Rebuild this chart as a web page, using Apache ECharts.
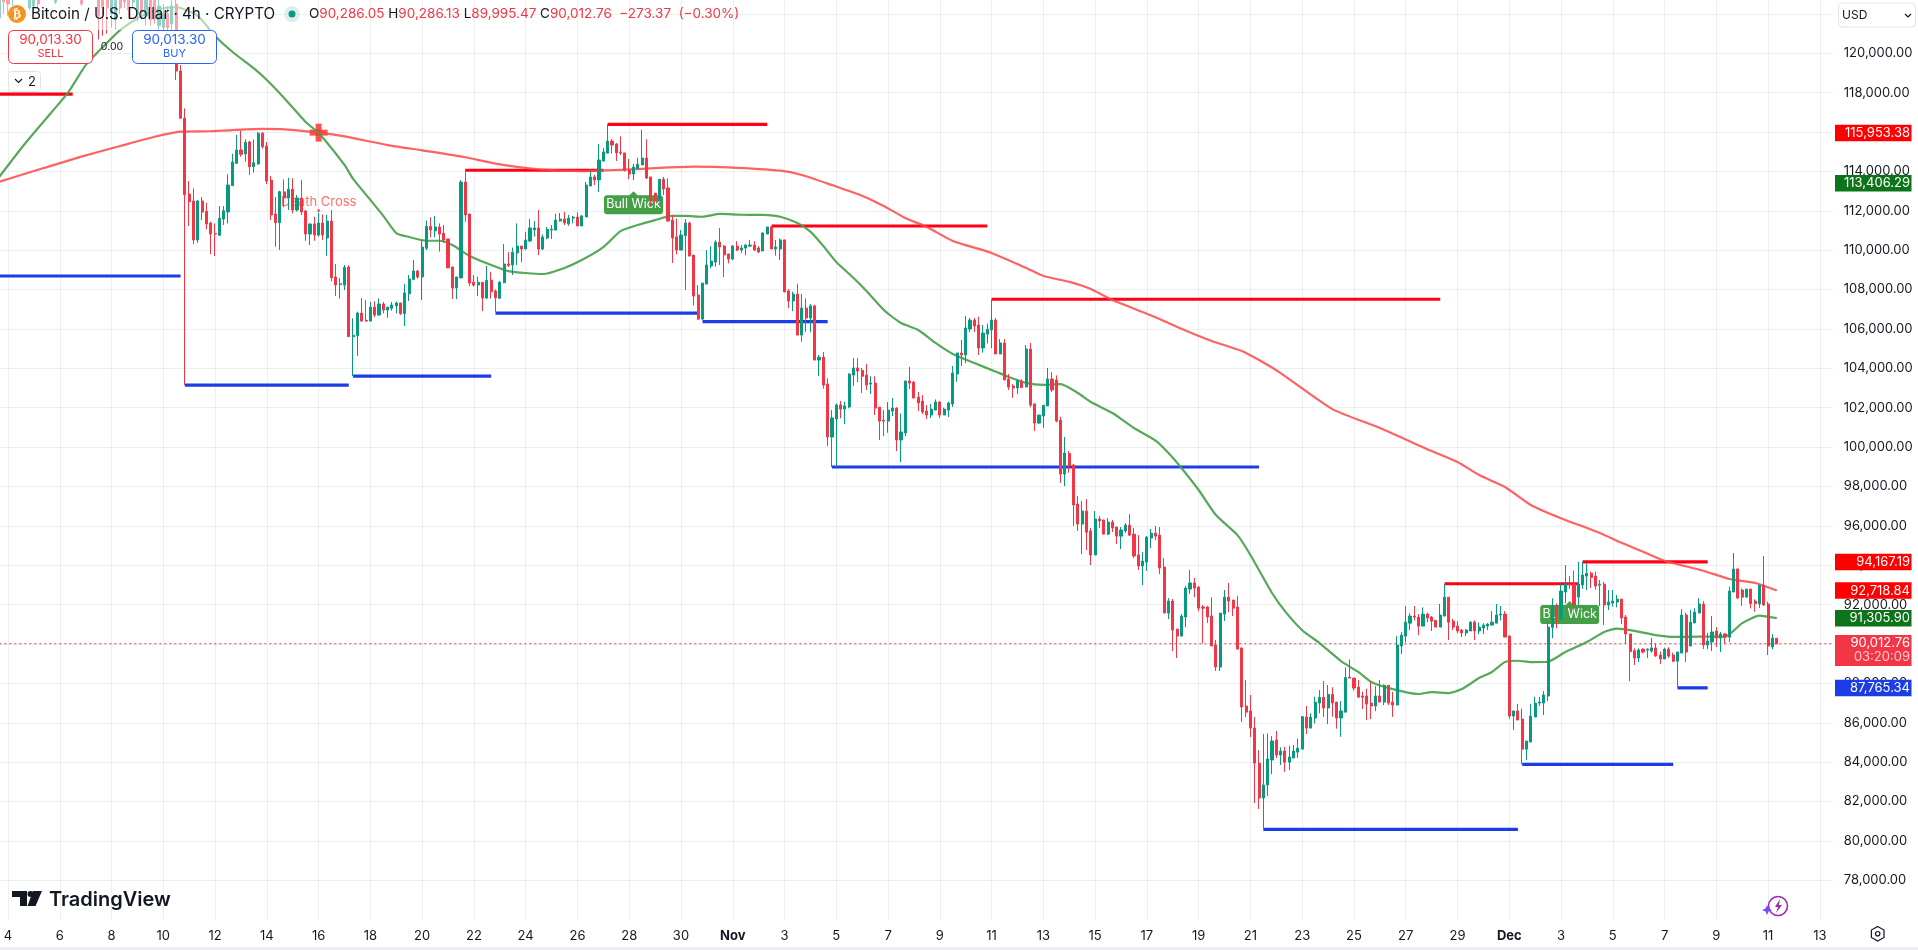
<!DOCTYPE html>
<html><head><meta charset="utf-8">
<style>html,body{margin:0;padding:0;background:#fff;overflow:hidden}#c{width:1918px;height:950px}</style>
<script src="https://cdn.jsdelivr.net/npm/echarts@6/dist/echarts.min.js"></script>
</head><body><div id="c"></div>
<script>
// Prices in thousands of USD. Each candle row: [open, close, high, low]
const barsOctA=[[121.8,123.2,123.5,121.6],[123.3,122.6,123.6,122.0],[123.1,122.5,123.3,121.9],[122.9,123.4,123.6,122.4],[123.0,123.6,123.8,122.8],[123.5,123.0,123.8,122.8],[123.0,123.5,123.7,122.8],[122.3,123.0,123.3,122.2],[122.4,123.2,123.4,122.0],[123.0,122.5,123.2,122.3],
[123.2,122.9,123.4,122.7],[122.85,123.3,123.5,122.7],[123.4,123.0,123.6,122.9],[122.6,123.2,123.4,122.5],[123.2,123.6,123.8,123.0],[123.6,123.2,123.8,123.1],[123.2,123.7,123.9,123.1],[123.7,123.3,123.9,123.2],[123.3,123.6,123.8,123.1],[123.2,122.5,123.6,122.4],
[122.9,123.4,123.6,122.8],[123.4,123.1,123.6,122.9],[123.1,123.5,123.7,122.9],[123.5,121.9,124,120.7],[123.0,122.3,123.3,120.9],[123.2,122.3,123.5,121.0],[122.0,123,123.3,121.3],[121.7,122.7,123.1,121.2],[123.2,122.3,123.4,122.0],[123.4,122.6,123.6,122.3],
[123.0,122.2,123.2,121.8],[122.6,123.1,123.3,122.3],[122.0,122.9,123.1,121.6],[123.0,122.1,123.2,121.7],[121.9,122.9,123.2,121.4],[122.8,121.7,123,121.4],[122.7,121.7,123.1,121.5],[121.4,122.4,122.9,121.2],[121.3,122.0,122.5,121.1],[122.0,121.3,122.4,121.1],
[121.5,122.4,122.7,121.0],[122.5,119.1,122.9,118.65]];
const barsOctB=[[119.1,116.7,119.4,116.7],[116.7,112.82,117.2,103.15],[112.85,112.46,113.51,111.23],[112.5,110.52,113.14,110.31],[110.52,112.5,112.55,110.38],[112.5,111.94,112.7,111.53],[111.97,111.33,112.41,111.06],[111.38,110.82,111.45,109.8],[110.85,110.82,111.36,109.7],[110.76,111.62,112.24,110.72],
[111.58,112.0,112.24,111.28],[111.94,113.31,113.85,111.36],[113.28,114.48,114.9,113.28],[114.41,115.09,115.85,114.41],[115.09,114.87,116.07,114.75],[114.89,115.48,115.63,114.5],[115.5,114.24,115.56,113.82],[114.24,114.44,115.63,113.94],[114.38,115.94,116.0,114.34],[115.94,115.26,116.0,115.16],
[115.29,113.51,115.5,113.36],[113.56,111.79,113.77,111.53],[111.84,111.4,112.7,110.18],[111.4,112.97,113.02,110.01],[112.96,112.65,113.6,112.18],[112.65,113.1,113.67,112.04],[113.1,112.04,113.65,111.87],[112.04,112.65,112.8,111.96],[112.65,111.94,113.56,111.79],[111.99,110.82,112.04,110.48],
[110.82,111.33,111.36,110.26],[111.33,110.77,111.7,110.48],[110.77,111.38,111.9,110.69],[111.38,110.77,111.82,110.52],[110.62,111.48,111.79,109.7],[111.48,108.6,112.04,108.43],[108.64,108.23,109.3,107.67],[108.26,108.29,108.59,107.54],[108.23,109.13,109.25,107.98],[109.15,105.61,109.23,105.6],
[105.6,105.68,106.54,103.6],[105.66,106.81,106.88,104.63],[106.81,106.4,107.57,106.37],[106.44,106.4,107.47,106.37],[106.4,107.11,107.37,106.4],[107.11,106.71,107.4,106.6],[106.71,107.27,107.55,106.67],[107.27,106.96,107.37,106.79],[106.96,107.11,107.11,106.57],[107.05,107.22,107.37,106.93],
[107.17,107.32,107.4,106.79],[107.32,106.78,107.32,106.71],[106.78,107.83,108.28,106.15],[107.79,108.54,108.74,107.42],[108.52,108.94,109.5,108.49],[108.94,108.64,109.0,108.55],[108.64,110.16,110.52,107.47],[110.1,111.21,111.5,110.0],[111.21,111.03,111.67,110.65],[110.98,111.18,111.73,110.65],
[111.18,110.82,111.36,109.93],[110.86,110.52,111.28,110.38],[110.57,109.1,110.57,109.1],[109.15,108.08,109.15,107.52],[108.08,108.64,108.64,107.52],[108.59,113.46,113.56,108.59],[113.46,111.79,114.07,111.45],[111.84,108.33,111.84,108.18],[108.37,108.23,108.74,108.15],[108.23,108.37,108.66,107.67],
[108.37,107.57,108.37,106.91],[107.57,108.47,109.2,107.52]];
const barsOctC=[[108.48,107.89,108.9,107.55],[107.93,107.59,108.0,106.87],[107.56,108.38,108.42,107.52],[108.35,109.3,110.31,108.32],[109.3,109.23,109.9,109.15],[109.25,109.9,110.13,108.74],[109.86,110.21,111.36,109.25],[110.21,110.06,110.21,109.38],[110.06,110.52,110.94,110.06],[110.47,111.13,111.58,110.4],
[111.03,111.13,111.48,110.69],[111.13,110.06,112.04,109.75],[110.06,110.67,110.8,110.0],[110.62,111.07,111.18,110.57],[111.02,111.07,111.28,110.57],[111.02,111.53,111.85,111.02],[111.48,111.58,111.89,111.45],[111.58,111.38,111.94,111.28],[111.34,111.63,111.79,111.24],[111.63,111.68,111.74,111.36],
[111.68,111.23,111.92,111.23],[111.23,111.74,111.79,111.23],[111.69,113.31,113.46,111.69],[113.26,113.72,114.02,113.26],[113.72,113.57,113.82,113.31],[113.57,114.58,115.39,112.95],[114.53,114.99,115.2,114.5],[114.93,115.54,116.39,114.93],[115.54,115.34,115.65,114.92],[115.39,114.94,115.44,114.53],
[114.99,114.94,115.78,114.83],[114.94,114.07,114.94,113.99],[114.07,113.87,114.63,113.61],[113.87,114.22,114.38,113.56],[114.15,114.36,114.7,114.12],[114.33,114.68,116.12,114.33],[114.68,113.67,115.63,113.61],[113.72,112.5,113.72,112.3],[112.9,112.5,112.9,112.43],[112.5,113.6,113.6,112.5],
[113.6,113.11,113.72,112.8],[113.16,111.48,113.65,111.45],[111.53,110.62,111.79,109.35],[110.67,110.01,111.6,109.79],[110.01,110.77,111.02,110.01],[110.74,111.38,111.58,107.98],[111.38,109.7,111.45,109.7],[109.75,107.67,109.75,107.2],[107.72,106.5,108.23,106.45],[106.5,108.33,108.33,106.45],
[108.28,109.25,110.0,108.28],[109.2,109.45,110.2,109.08],[109.4,110.41,110.51,109.16],[110.41,110.16,111.13,109.25],[110.21,109.76,110.26,108.63],[109.81,109.55,109.81,109.33]];
const barsNovA=[[109.55,110.21,110.26,109.5],[110.21,110.01,110.46,109.96],[110.01,110.11,110.26,109.86],[110.11,110.26,110.31,109.75],[110.21,110.26,110.52,110.16],[110.26,110.01,110.46,109.96],[110.11,109.91,110.21,109.86],[109.96,110.87,110.92,109.96],[110.82,111.18,111.18,110.82],[111.18,110.06,111.23,110.06],
[110.06,110.16,110.52,109.72],[110.06,110.52,110.6,109.5],[110.52,107.88,110.52,107.88],[107.93,107.42,108.03,107.06],[107.42,107.77,107.89,106.91],[107.77,105.69,108.3,105.69],[105.69,107.06,107.77,105.35],[107.06,106.56,107.55,105.85],[106.56,107.17,107.27,105.85],[107.17,104.42,107.23,104.42],
[104.42,104.57,104.68,103.61],[104.57,103.15,104.83,102.97],[103.2,100.51,103.49,100.05],[100.51,101.48,101.88,98.99],[101.43,102.14,102.22,98.99],[102.14,101.93,102.34,101.46],[101.93,102.09,102.3,101.17],[102.04,103.71,103.75,101.97],[103.66,104.02,104.52,103.1],[104.02,103.86,104.52,103.3],
[103.9,103.6,104.02,102.75],[103.66,103.15,104.22,102.9],[103.2,103.25,103.6,102.7],[103.25,101.98,103.6,101.63],[102.03,101.32,102.03,100.36],[101.37,101.32,101.88,100.56],[101.32,101.88,102.29,100.73],[101.83,101.98,102.49,101.58],[101.98,100.36,102.02,99.8],[100.36,100.77,101.71,99.24],
[100.72,103.36,103.36,100.56],[103.36,103.25,104.07,102.95],[103.3,102.49,103.37,102.49],[102.54,102.24,102.8,101.83],[102.34,101.78,102.64,101.68],[101.83,101.63,102.14,101.43],[101.63,101.93,102.19,101.48],[101.88,102.29,102.42,101.88],[102.29,101.63,102.34,101.48],[101.63,101.93,102.0,101.63],
[101.88,102.24,102.31,101.53],[102.19,103.76,104.12,102.04],[103.71,104.78,104.78,103.32],[104.78,104.68,105.44,104.12],[104.68,106.05,106.66,104.26],[106.0,106.45,106.56,105.85],[106.45,106.15,106.56,105.85],[106.2,105.03,106.62,104.68],[105.03,105.79,106.2,104.8],[105.74,105.99,106.28,105.27],
[105.95,106.45,107.5,105.02],[106.45,104.73,106.56,104.73],[104.73,105.29,105.49,104.73],[105.29,103.41,105.49,103.41],[103.46,103.05,103.71,102.9],[103.1,103.0,103.2,102.5],[103.0,103.36,103.46,102.7],[103.36,103.03,103.44,103.0],[103.05,104.98,105.18,103.05],[104.98,102.14,105.29,102.02],
[102.19,101.22,102.22,100.82],[101.22,101.63,101.63,101.17],[101.58,102.12,102.12,100.97],[102.09,103.46,104.02,102.09],[103.46,102.9,103.81,102.8],[103.41,101.32,103.64,101.26]];
const barsNovB=[[101.37,98.63,101.54,98.18],[98.63,99.7,100.51,98.02],[99.68,99.04,99.8,98.7],[99.09,97.06,99.14,95.99],[97.11,96.09,97.51,95.74],[96.09,96.75,97.26,94.57],[96.75,95.68,97.36,94.77],[95.74,94.52,95.89,94.01],[94.52,96.35,96.75,94.52],[96.35,96.25,96.5,95.89],
[96.3,95.58,96.3,95.58],[95.58,96.19,96.4,95.53],[96.19,95.89,96.3,95.69],[95.94,95.48,95.94,95.08],[95.48,95.79,95.94,94.82],[95.74,96.04,96.14,95.65],[96.04,95.53,96.6,95.48],[95.58,94.47,95.89,94.37],[94.52,93.96,95.53,93.76],[93.96,94.21,94.67,92.99],
[94.16,95.43,95.48,93.71],[95.38,95.63,95.84,94.87],[95.63,95.48,95.99,95.28],[95.53,93.86,95.94,93.55],[93.91,91.57,94.37,91.57],[91.57,92.18,92.33,91.27],[92.18,90.71,92.28,89.64],[90.76,90.4,90.76,89.29],[90.4,91.42,91.52,90.4],[91.37,92.84,92.94,90.86],
[92.79,93.1,93.76,92.54],[93.1,92.84,93.35,92.38],[92.89,91.82,92.94,91.67],[91.88,91.82,91.98,90.03],[91.88,91.37,91.93,91.06],[91.42,89.9,92.38,89.9],[89.95,88.83,90.2,88.63],[88.83,91.57,91.57,88.63],[91.52,92.38,92.74,91.17],[92.38,92.18,93.1,91.62],
[92.23,91.82,92.23,91.42],[91.88,89.74,92.44,89.74],[89.79,86.8,89.84,86.04],[86.85,86.54,88.17,86.29],[86.6,85.73,87.41,85.27],[85.73,83.95,86.29,81.92],[83.95,82.18,84.61,81.62],[82.18,82.84,85.43,80.59],[82.84,84.16,85.46,82.28],[84.11,85.07,85.32,83.39],
[85.12,84.36,85.58,84.21]];
const barsNovC=[[84.36,84.56,84.75,83.85],[84.56,84.0,84.78,83.51],[84.0,84.26,84.83,83.6],[84.21,84.56,84.87,84.21],[84.51,84.71,85.2,84.21],[84.66,86.31,86.34,84.66],[86.29,85.73,86.85,85.43],[85.73,86.29,86.48,85.73],[86.24,87.05,87.32,85.97],[87.0,87.29,87.66,86.48],
[87.29,86.75,88.12,86.3],[86.75,87.44,87.92,85.93],[87.44,87.0,87.8,86.3],[87.05,86.24,87.05,85.7],[86.24,86.6,87.1,85.29],[86.54,88.3,88.81,86.54],[88.32,88.27,89.22,88.27],[88.27,87.76,88.27,87.63],[87.81,87.3,88.17,87.3],[87.36,87.3,87.58,86.7],
[87.36,86.95,87.73,86.14],[87.0,86.85,88.09,86.19],[86.85,87.36,87.86,86.59],[87.36,87.05,88.17,87.05],[87.05,87.9,87.95,86.9],[87.9,87.0,87.9,86.9],[87.05,86.9,87.56,86.3],[86.9,89.95,90.4,86.9],[89.9,90.45,90.6,89.49],[90.4,91.11,91.93,90.08],
[91.06,91.42,91.57,90.7],[91.42,91.37,91.93,91.2],[91.37,90.91,91.52,90.45],[90.91,91.52,91.86,90.91],[91.52,91.32,91.59,91.11],[91.37,91.16,91.42,90.66],[91.2,90.86,91.2,90.86],[90.86,91.47,92.03,90.86],[91.42,92.38,93.05,91.42],[92.38,91.11,92.38,90.2],
[91.16,90.86,91.27,90.71],[90.91,90.66,91.16,90.56],[90.71,90.56,90.76,90.35],[90.56,90.71,90.76,90.4],[90.66,91.11,91.16,90.66],[91.11,90.66,91.2,90.2],[90.66,90.86,91.1,90.5],[90.81,90.96,91.06,90.5],[90.91,91.01,91.06,90.7],[90.96,91.11,91.67,90.96],
[91.06,91.47,92.03,91.06],[91.47,91.52,91.93,91.2],[91.52,90.35,91.67,90.35]];
const barsDec=[[90.4,86.34,90.45,86.2],[86.34,86.6,86.6,85.63],[86.6,86.14,86.95,86.14],[86.19,84.66,86.71,83.89],[84.66,85.07,85.07,84.1],[85.02,86.34,86.95,85.02],[86.29,87.0,87.32,86.29],[87.0,87.05,87.32,86.85],[87.0,87.41,87.61,86.39],[87.36,90.86,91.11,87.1],
[90.85,91.93,92.32,90.29],[91.93,91.27,92.06,90.8],[91.27,92.69,93.08,91.27],[92.64,93.05,94.01,92.07],[93.05,93.0,93.45,92.8],[93.05,91.98,93.72,91.73],[92.39,93.05,94.18,91.98],[93.0,93.5,94.18,92.8],[93.45,93.59,94.09,92.74],[93.59,93.38,93.67,92.84],
[93.45,92.94,93.67,92.77],[92.99,93.04,93.25,91.93],[93.04,91.98,93.16,90.96],[91.98,92.13,92.74,91.73],[92.08,92.18,92.74,91.9],[92.13,92.28,92.49,91.86],[92.28,91.32,92.28,91.01],[91.37,90.51,91.47,90.0],[90.51,89.61,90.51,88.12],[89.66,89.29,89.78,88.93],
[89.29,89.7,89.78,89.08],[89.74,89.59,89.78,89.52],[89.69,89.74,89.78,89.29],[89.64,89.8,90.3,89.56],[89.8,89.39,90.03,89.35],[89.44,89.24,89.61,88.98],[89.24,89.74,89.81,89.24],[89.74,89.39,89.83,89.29],[89.44,89.13,89.56,89.08],[89.13,89.59,89.59,87.8],
[89.54,91.47,91.77,89.54],[91.47,89.59,91.59,89.08],[89.9,91.11,91.72,89.9],[91.07,91.62,91.81,91.07],[91.57,92.03,92.32,91.57],[92.03,89.95,92.18,89.74],[89.95,90.15,90.57,89.74],[90.1,90.61,91.42,89.64],[90.66,90.3,90.85,89.85],[90.3,90.51,90.61,89.59],
[90.51,90.35,90.56,90.0],[90.35,92.69,92.91,90.1],[92.64,93.81,94.62,92.64],[93.81,92.34,93.84,92.28],[92.74,92.38,92.82,91.93],[92.38,92.79,92.79,92.38],[92.79,92.06,92.79,91.81],[92.18,92.06,92.27,91.64],[92.03,92.99,92.99,91.83],[92.99,91.98,94.47,91.93],
[92.03,89.9,92.15,89.44],[89.85,90.3,90.5,89.74],[90.29,90.01,90.29,89.995]];

// [bar index, value] readings of the two moving averages
const greenMA=[[0,113.73],[6,115.43],[12,116.98],[16,118.03],[20,119.4],[23,120.1],[28,121.18],[33,121.9],[38,122.29],[41,122.34],[46,121.9],[50,120.88],[54,120.08],[59,119.23],[62,118.64],[66,117.73],[71,116.51],[74,115.95],[80,114.33],[82,113.62],[86,112.55],[89,111.74],[92,110.87],[95,110.67],[99,110.48],[102,110.48],[105,110.26],[109,109.71],[114,109.25],[118,108.94],[126,108.79],[131,109.1],[135,109.5],[140,110.16],[144,110.97],[148,111.28],[152,111.53],[156,111.74],[159,111.74],[163,111.7],[167,111.84],[172,111.8],[177,111.79],[181,111.7],[185,111.38],[188,110.94],[191,110.21],[194,109.4],[198,108.59],[201,107.93],[205,106.97],[209,106.3],[213,105.95],[217,105.29],[221,104.73],[226,104.27],[231,103.83],[234,103.56],[238,103.26],[242,103.16],[246,103.2],[250,102.75],[253,102.29],[258,101.73],[263,100.97],[268,100.33],[271,99.7],[274,98.94],[278,97.82],[282,96.55],[287,95.53],[290,94.52],[295,92.59],[298,91.67],[302,90.7],[306,90.05],[311,89.13],[315,88.58],[318,88.07],[323,87.71],[329,87.46],[332,87.56],[336,87.51],[339,87.71],[343,88.27],[346,88.58],[349,89.08],[352,89.15],[355,89.08],[359,89.1],[363,89.59],[368,90.1],[372,90.61],[375,90.78],[379,90.67],[384,90.45],[388,90.36],[394,90.37],[400,90.37],[404,91.06],[408,91.44],[412,91.31]];
const redMA=[[0,113.48],[5,113.82],[11,114.22],[19,114.75],[28,115.29],[36,115.76],[42,116.02],[49,116.04],[61,116.16],[66,116.14],[74,115.97],[80,115.78],[90,115.34],[98,115.07],[108,114.72],[115,114.4],[125,114.11],[135,114.02],[148,114.12],[154,114.19],[161,114.24],[169,114.21],[181,114.04],[186,113.82],[193,113.31],[199,112.85],[205,112.25],[210,111.63],[215,111.18],[221,110.47],[230,109.86],[238,109.1],[242,108.69],[248,108.39],[253,108.03],[258,107.47],[268,106.6],[273,106.1],[281,105.39],[288,104.88],[292,104.42],[297,103.76],[309,101.93],[320,100.97],[332,99.8],[338,99.24],[343,98.58],[349,97.97],[355,97.06],[359,96.65],[363,96.3],[371,95.64],[376,95.14],[381,94.69],[386,94.23],[395,93.72],[401,93.3],[407,93.1],[412,92.72]];

// [first bar, last bar, price]
const resistanceLevels=[[0,17,117.93],[108,140,114.06],[141,178,116.39],[179,229,111.23],[230,334,107.51],[335,366,93.06],[367,396,94.17]];
const supportLevels=[[0,42,108.69],[43,81,103.15],[82,114,103.6],[115,162,106.8],[163,192,106.37],[193,292,98.99],[293,352,80.59],[353,388,83.89],[389,396,87.77]];

const lastPrice=90.01276;
const tickLabels=['4','6','8','10','12','14','16','18','20','22','24','26','28','30','Nov','3','5','7','9','11','13','15','17','19','21','23','25','27','29','Dec','3','5','7','9','11','13'];
const tagPrices=[115.95338,113.40629,94.16719,92.71884,91.3059,90.01276,87.76534];
const tagTexts=['115,953.38','113,406.29','94,167.19','92,718.84','91,305.90','90,012.76','87,765.34'];
const tagColors=['#ff0000','#0e7419','#ff0000','#ff0000','#0e7419','#f23645','#1c3de6'];
const bullWicks=[[147,113.0],[364,92.18]];
const deathCross=[74,115.97];
const deathCrossLabel=[74,112.27];

const BAR_COUNT=426;
const categories=Array.from({length:BAR_COUNT},(_,i)=>String(i));
const candles=[].concat(barsOctA,barsOctB,barsOctC,barsNovA,barsNovB,barsNovC,barsDec)
  .map(r=>[r[0],r[1],r[3],r[2]]);
const isTick=i=>i>=2&&(i-2)%12===0;
const FONT='Inter, "Liberation Sans", sans-serif';
const levelSeries=(arr,color)=>arr.map(l=>({type:'line',z:3,data:[[l[0],l[2]],[l[1],l[2]]],symbol:'none',silent:true,
  lineStyle:{color,width:3.2},animation:false}));

const chart=echarts.init(document.getElementById('c'),null,{renderer:'canvas'});
chart.setOption({
 animation:false,backgroundColor:'#fff',
 grid:{left:-0.63,top:-25.46,width:1833.45,height:945.12,containLabel:false,outerBoundsMode:'none'},
 xAxis:{type:'category',data:categories,boundaryGap:false,
  axisLine:{show:false},axisTick:{show:false},
  splitLine:{show:true,interval:i=>isTick(i),lineStyle:{color:'rgba(42,46,57,0.08)',width:1}},
  axisLabel:{interval:i=>isTick(i),margin:10,color:'#131722',fontFamily:FONT,fontSize:13,hideOverlap:false,
   formatter:(v)=>{const t=tickLabels[(Number(v)-2)/12]||'';return (t==='Nov'||t==='Dec')?'{b|'+t+'}':t;},
   rich:{b:{fontWeight:700,fontSize:13,fontFamily:FONT,color:'#131722'}}}},
 yAxis:{type:'value',position:'right',min:76,max:124,interval:2,
  axisLine:{show:false},axisTick:{show:false},
  splitLine:{show:true,showMinLine:false,showMaxLine:false,lineStyle:{color:'rgba(42,46,57,0.08)',width:1}},
  axisLabel:{margin:11,color:'#131722',fontFamily:FONT,fontSize:13,align:'left',
   formatter:v=>(v>120||v<78)?'':(v*1000).toLocaleString('en-US',{minimumFractionDigits:2})}},
 series:[
  {type:'custom',z:1,coordinateSystem:'cartesian2d',data:bullWicks,silent:true,
   renderItem:(p,api)=>{const c=api.coord([api.value(0),api.value(1)]);const w=59,h=19,top=c[1]+4;
    return {type:'group',children:[
     {type:'polygon',shape:{points:[[c[0]-5,top+1],[c[0],top-4],[c[0]+5,top+1]]},style:{fill:'#43a047'}},
     {type:'rect',shape:{x:c[0]-w/2,y:top,width:w,height:h,r:3},style:{fill:'#43a047'}},
     {type:'text',style:{x:c[0],y:top+h/2,text:'Bull Wick',fill:'#fff',font:'12.5px '+FONT,align:'center',verticalAlign:'middle'}}]};}},
  {type:'custom',z:1,coordinateSystem:'cartesian2d',data:[deathCrossLabel],silent:true,
   renderItem:(p,api)=>{const c=api.coord([api.value(0),api.value(1)]);
    return {type:'group',children:[
     {type:'text',style:{x:c[0],y:c[1]-3,text:'Death Cross',fill:'rgba(255,60,60,0.75)',font:'13px '+FONT,align:'center',verticalAlign:'middle'}},
     {type:'circle',shape:{cx:c[0],cy:c[1]+5,r:1.6},style:{fill:'rgba(255,60,60,0.8)'}}]};}},
  ...levelSeries(resistanceLevels,'#ff0015'),
  ...levelSeries(supportLevels,'#1c3de6'),
  {type:'line',z:3,data:[[0,lastPrice],[BAR_COUNT-1,lastPrice]],symbol:'none',silent:true,lineStyle:{color:'#f23645',width:1,type:[2,3]}},
  {type:'line',z:3,name:'MA long',data:redMA,symbol:'none',silent:true,smooth:0.2,lineStyle:{color:'rgba(255,70,70,0.85)',width:2.2}},
  {type:'line',z:3,name:'MA short',data:greenMA,symbol:'none',silent:true,smooth:0.2,lineStyle:{color:'rgba(67,160,71,0.9)',width:2.2}},
  {type:'custom',z:3,coordinateSystem:'cartesian2d',data:[deathCross],silent:true,
   renderItem:(p,api)=>{const c=api.coord([api.value(0),api.value(1)]);
    return {type:'group',children:[
     {type:'rect',shape:{x:c[0]-9,y:c[1]-3,width:18,height:6},style:{fill:'rgba(255,50,50,0.85)'}},
     {type:'rect',shape:{x:c[0]-3,y:c[1]-9,width:6,height:18},style:{fill:'rgba(255,50,50,0.85)'}}]};}},
  {type:'candlestick',z:4,data:candles,barWidth:2.6,silent:true,
   itemStyle:{color:'#089981',color0:'#f23645',borderColor:'#089981',borderColor0:'#f23645',borderWidth:1}},
  {type:'custom',z:6,coordinateSystem:'cartesian2d',data:tagPrices.map((v,i)=>[0,v,i]),silent:true,
   renderItem:(p,api)=>{const k=api.value(2),y=api.coord([0,api.value(1)])[1];const x=1835,w=76.5;
    const big=tagTexts[k]==='90,012.76';const top=big?y-8.7:y-8.25,h=big?31:16.5;
    const ch=[{type:'rect',shape:{x,y:top,width:w,height:h},style:{fill:tagColors[k]}},
     {type:'text',style:{x:x+75,y:top+8.5,text:tagTexts[k],fill:'#fff',font:'13px '+FONT,align:'right',verticalAlign:'middle'}}];
    if(big)ch.push({type:'text',style:{x:x+75,y:top+22.5,text:'03:20:09',fill:'rgba(255,255,255,0.75)',font:'13px '+FONT,align:'right',verticalAlign:'middle'}});
    return {type:'group',children:ch};}}
 ],
 graphic:{elements:[
  {type:'rect',z:50,shape:{x:0,y:0,width:225,height:30},style:{fill:'rgba(255,255,255,0.55)'}},
  {type:'circle',z:51,shape:{cx:17,cy:14,r:9},style:{fill:'#f7931a'}},
  {type:'text',z:52,style:{x:17,y:14.5,text:'₿',fill:'#fff',font:'bold 12px "DejaVu Sans"',align:'center',verticalAlign:'middle'}},
  {type:'text',z:52,style:{x:31,y:14,text:'Bitcoin / U.S. Dollar · 4h · CRYPTO',fill:'#131722',font:'15.2px '+FONT,verticalAlign:'middle'}},
  {type:'circle',z:51,shape:{cx:292,cy:14,r:8},style:{fill:'#dcefec'}},
  {type:'circle',z:52,shape:{cx:292,cy:14,r:3.5},style:{fill:'#089981'}},
  {type:'text',z:52,style:{x:309,y:14,fill:'#131722',verticalAlign:'middle',font:'13.5px '+FONT,
    text:'{k|O}{r|90,286.05} {k|H}{r|90,286.13} {k|L}{r|89,995.47} {k|C}{r|90,012.76  −273.37  (−0.30%)}',
    rich:{k:{fill:'#131722',font:'13.5px '+FONT},r:{fill:'#f23645',font:'13.5px '+FONT}}}},
  {type:'rect',z:51,shape:{x:8.5,y:30.5,width:84,height:33,r:5},style:{fill:'#fff',stroke:'#f23645',lineWidth:1}},
  {type:'text',z:52,style:{x:50.5,y:40,text:'90,013.30',fill:'#f23645',font:'13.5px '+FONT,align:'center',verticalAlign:'middle'}},
  {type:'text',z:52,style:{x:50.5,y:54,text:'SELL',fill:'#f23645',font:'11px '+FONT,align:'center',verticalAlign:'middle'}},
  {type:'text',z:52,style:{x:112,y:47,text:'0.00',fill:'#131722',font:'10.5px '+FONT,align:'center',verticalAlign:'middle'}},
  {type:'rect',z:51,shape:{x:132.5,y:30.5,width:84,height:33,r:5},style:{fill:'#fff',stroke:'#2962ff',lineWidth:1}},
  {type:'text',z:52,style:{x:174.5,y:40,text:'90,013.30',fill:'#2962ff',font:'13.5px '+FONT,align:'center',verticalAlign:'middle'}},
  {type:'text',z:52,style:{x:174.5,y:54,text:'BUY',fill:'#2962ff',font:'11px '+FONT,align:'center',verticalAlign:'middle'}},
  {type:'rect',z:51,shape:{x:8.5,y:71.5,width:32,height:20,r:3},style:{fill:'#fff',stroke:'#e0e3eb',lineWidth:1}},
  {type:'polyline',z:52,shape:{points:[[15,79],[18.5,82.5],[22,79]]},style:{stroke:'#131722',lineWidth:1.2,fill:'none'}},
  {type:'text',z:52,style:{x:28,y:82,text:'2',fill:'#131722',font:'13px '+FONT,verticalAlign:'middle'}},
  {type:'rect',z:51,shape:{x:1838.5,y:3,width:77,height:24,r:4},style:{fill:'#fff',stroke:'#e0e3eb',lineWidth:1}},
  {type:'text',z:52,style:{x:1842,y:15,text:'USD',fill:'#131722',font:'12px '+FONT,verticalAlign:'middle'}},
  {type:'polyline',z:52,shape:{points:[[1905,14],[1908,17],[1911,14]]},style:{stroke:'#131722',lineWidth:1.2,fill:'none'}},
  {type:'polygon',z:52,shape:{points:[[12,891],[27,891],[27,906],[20,906],[20,897],[12,897]]},style:{fill:'#131722'}},
  {type:'circle',z:52,shape:{cx:30.5,cy:894,r:3},style:{fill:'#131722'}},
  {type:'polygon',z:52,shape:{points:[[33,891],[42,891],[35.5,906],[27.5,906]]},style:{fill:'#131722'}},
  {type:'text',z:52,style:{x:49,y:900,text:'TradingView',fill:'#131722',font:'600 20px '+FONT,verticalAlign:'middle'}},
  {type:'circle',z:52,shape:{cx:1778,cy:906,r:9.5},style:{fill:'none',stroke:'#9c27b0',lineWidth:1.6}},
  {type:'polygon',z:52,shape:{points:[[1780,899],[1775,907],[1778,907],[1776,913],[1782,905],[1778.8,905]]},style:{fill:'#9c27b0'}},
  {type:'polygon',z:53,shape:{points:[[1767,905],[1768.5,908.5],[1772,910],[1768.5,911.5],[1767,915],[1765.5,911.5],[1762,910],[1765.5,908.5]]},style:{fill:'#6a4dff'}},
  {type:'polygon',z:52,shape:{points:[[1877.7,926.5],[1884,930],[1884,937.5],[1877.7,941],[1871.4,937.5],[1871.4,930]]},style:{fill:'none',stroke:'#131722',lineWidth:1.2}},
  {type:'circle',z:52,shape:{cx:1877.7,cy:933.7,r:2.2},style:{fill:'none',stroke:'#131722',lineWidth:1.2}},
  {type:'rect',z:52,shape:{x:0,y:947,width:1918,height:3},style:{fill:'#eceef2'}}
 ]}
});
</script></body></html>
